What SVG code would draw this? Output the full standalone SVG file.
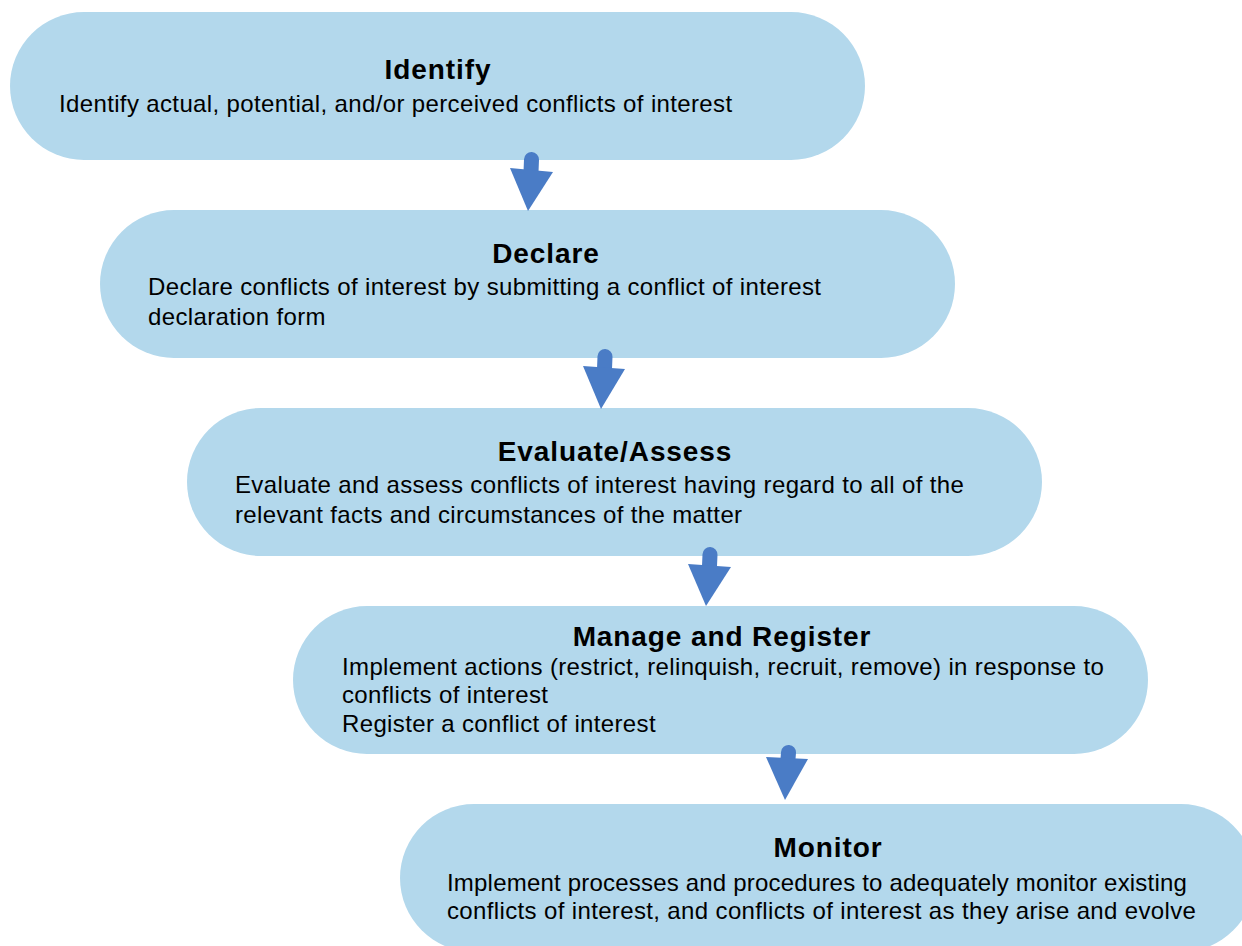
<svg xmlns="http://www.w3.org/2000/svg" width="1242" height="946" viewBox="0 0 1242 946">
  <style>
    .box { fill: #b3d8ec; }
    .title { font-family: "Liberation Sans", Arial, sans-serif; font-size: 28px; font-weight: bold; letter-spacing: 0.9px; fill: #000; text-anchor: middle; }
    .body { font-family: "Liberation Sans", Arial, sans-serif; font-size: 24px; letter-spacing: 0.36px; fill: #000; }
    .tight { letter-spacing: 0.2px; }
    .stem { stroke: #4a7cc6; stroke-width: 15; stroke-linecap: round; fill: none; }
    .head { fill: #4a7cc6; }
  </style>
  <rect width="1242" height="946" fill="#ffffff"/>

  <g id="node-identify">
    <rect class="box" x="10" y="12" width="855" height="148" rx="74" ry="74"/>
    <text class="title" x="438" y="79">Identify</text>
    <text class="body" x="59" y="112">Identify actual, potential, and/or perceived conflicts of interest</text>
  </g>

  <g id="node-declare">
    <rect class="box" x="100" y="210" width="855" height="148" rx="74" ry="74"/>
    <text class="title" x="546" y="263">Declare</text>
    <text class="body" x="148" y="295">Declare conflicts of interest by submitting a conflict of interest</text>
    <text class="body" x="148" y="325">declaration form</text>
  </g>

  <g id="node-evaluate">
    <rect class="box" x="187" y="408" width="855" height="148" rx="74" ry="74"/>
    <text class="title" x="615" y="461">Evaluate/Assess</text>
    <text class="body" x="235" y="493">Evaluate and assess conflicts of interest having regard to all of the</text>
    <text class="body" x="235" y="523">relevant facts and circumstances of the matter</text>
  </g>

  <g id="node-manage">
    <rect class="box" x="293" y="606" width="855" height="148" rx="74" ry="74"/>
    <text class="title" x="722" y="646">Manage and Register</text>
    <text class="body" x="342" y="675">Implement actions (restrict, relinquish, recruit, remove) in response to</text>
    <text class="body" x="342" y="703">conflicts of interest</text>
    <text class="body" x="342" y="732">Register a conflict of interest</text>
  </g>

  <g id="node-monitor">
    <rect class="box" x="400" y="804" width="855" height="148" rx="74" ry="74"/>
    <text class="title" x="828" y="857">Monitor</text>
    <text class="body tight" x="447" y="891">Implement processes and procedures to adequately monitor existing</text>
    <text class="body" x="447" y="919">conflicts of interest, and conflicts of interest as they arise and evolve</text>
  </g>

  <g id="connectors">
    <path class="stem" d="M531.5 159.5 L531 172"/>
    <polygon class="head" points="510,168 553,172 528,211"/>

    <path class="stem" d="M605 356.5 L604.5 369"/>
    <polygon class="head" points="583,366 625,369 601,409"/>

    <path class="stem" d="M710 554.5 L709.5 566"/>
    <polygon class="head" points="688,564 731,567 706,606"/>

    <path class="stem" d="M788.5 752.5 L788 759"/>
    <polygon class="head" points="766,757 808,759 785,800"/>
  </g>
</svg>
